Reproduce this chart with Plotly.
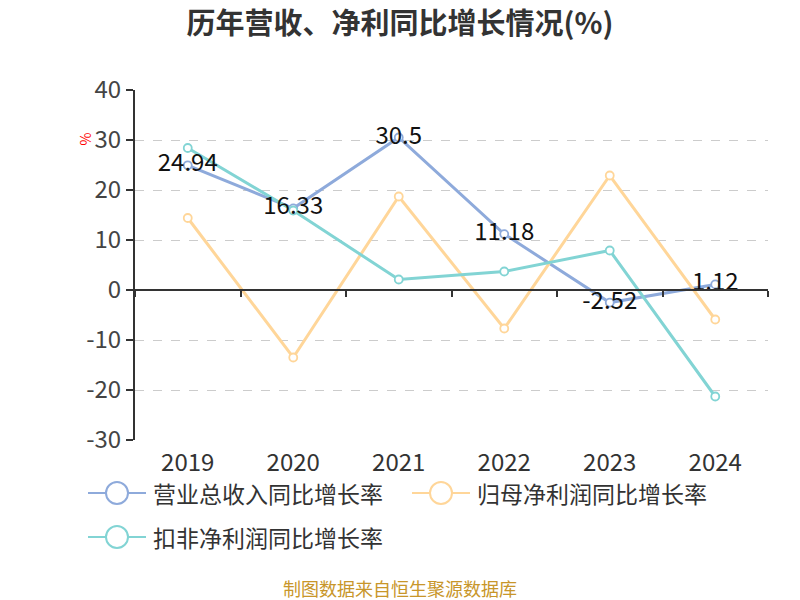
import plotly.graph_objects as go

years = ["2019", "2020", "2021", "2022", "2023", "2024"]
revenue = [24.94, 16.33, 30.5, 11.18, -2.52, 1.12]
net_profit = [14.4, -13.5, 18.7, -7.7, 22.9, -5.9]
deducted = [28.4, 15.9, 2.1, 3.7, 7.9, -21.3]
names = ["营业总收入同比增长率", "归母净利润同比增长率", "扣非净利润同比增长率"]
colors = ["#8eaadb", "#ffd699", "#82d4d4"]
y_ticks = [-30, -20, -10, 0, 10, 20, 30, 40]
y_ticktext = ["-30", "-20", "-10", "0", "10", "20", "30", "40"]

FONT = "Noto Sans CJK SC, Noto Sans, sans-serif"

# plot area in pixels (for converting layout-only positions)
L, R, T, B = 135, 768, 90, 440
W, H = R - L, B - T
def px(x):
    return (x - L) / W
def py(y):
    return (B - y) / H

fig = go.Figure()
for vals, name, c in zip([revenue, net_profit, deducted], names, colors):
    fig.add_trace(go.Scatter(
        x=years, y=vals, mode="lines+markers", name=name, showlegend=False,
        line=dict(color=c, width=3),
        marker=dict(symbol="circle", size=8, color="white", line=dict(color=c, width=1.8)),
        hoverinfo="skip"))
# labels on top
fig.add_trace(go.Scatter(
    x=years, y=revenue, mode="text", text=[str(v) for v in revenue],
    textposition="middle center", textfont=dict(size=24, color="#111", family=FONT),
    showlegend=False, hoverinfo="skip"))

# axis line at zero with boundary ticks
fig.add_trace(go.Scatter(x=[None], y=[None], xaxis="x2", showlegend=False))

shapes = []
annotations = []
# manual legend
legend_items = [(88, 493), (412, 493), (88, 537)]
for (lx, ly), name, c in zip(legend_items, names, colors):
    shapes.append(dict(type="line", xref="paper", yref="paper",
                       x0=px(lx), x1=px(lx + 58), y0=py(ly), y1=py(ly),
                       line=dict(color=c, width=2)))
    shapes.append(dict(type="circle", xref="paper", yref="paper",
                       xsizemode="pixel", ysizemode="pixel",
                       xanchor=px(lx + 29), yanchor=py(ly),
                       x0=-11, x1=11, y0=-11, y1=11,
                       fillcolor="white", line=dict(color=c, width=2)))
    annotations.append(dict(text=name, xref="paper", yref="paper",
                            x=px(lx + 63), y=py(ly), xanchor="left", yanchor="middle",
                            showarrow=False, font=dict(size=23, color="#333", family=FONT)))

annotations += [
    dict(text="%", xref="paper", yref="paper", x=px(72), y=py(131), showarrow=False,
         textangle=-90, font=dict(size=14, color="red", family=FONT)),
    dict(text="制图数据来自恒生聚源数据库", xref="paper", yref="paper", x=0.5 * (px(0) + px(800)),
         y=py(588), yanchor="middle", showarrow=False,
         font=dict(size=18, color="#c8962a", family=FONT)),
]

fig.update_layout(
    width=800, height=600,
    margin=dict(l=L, r=800 - R, t=T, b=600 - B),
    paper_bgcolor="white", plot_bgcolor="white",
    font=dict(family=FONT, color="#333"),
    showlegend=False,
    title=dict(text="<b>历年营收、净利同比增长情况(%)</b>", x=0.5, xanchor="center",
               y=1 - 24 / 600, yanchor="middle", font=dict(size=29, color="#333", family=FONT)),
    xaxis=dict(type="category", range=[-0.5, 5.5], showline=False, showgrid=False,
               ticks="", tickfont=dict(size=24, color="#333"), zeroline=False,
               ticklabelstandoff=6),
    xaxis2=dict(overlaying="x", anchor="free", position=py(290),
                range=[-0.5, 5.5], tickmode="array",
                tickvals=[-0.5, 0.5, 1.5, 2.5, 3.5, 4.5, 5.5],
                showticklabels=False, ticks="outside", ticklen=6, tickwidth=2,
                tickcolor="#333", showline=True, linecolor="#333", linewidth=2,
                showgrid=False, zeroline=False),
    yaxis=dict(range=[-30, 40], tickmode="array", tickvals=y_ticks, ticktext=y_ticktext,
               showline=True, linecolor="#333", linewidth=2,
               ticks="outside", ticklen=7, tickwidth=2, tickcolor="#333",
               tickfont=dict(size=24, color="#444"),
               showgrid=True, gridcolor="#cccccc", griddash="dash", gridwidth=1.2,
               zeroline=False),
    shapes=shapes,
    annotations=annotations,
)

fig.write_html("out.html", config={"displayModeBar": False},
               post_script="document.body.style.margin='0';")
